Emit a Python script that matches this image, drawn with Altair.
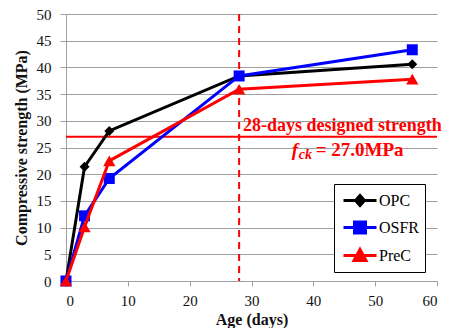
import altair as alt
import pandas as pd

# ---- data ----
ages = [0, 3, 7, 28, 56]
opc = [0, 21.4, 28.1, 38.4, 40.6]
osfr = [0, 12.2, 19.2, 38.4, 43.3]
prec = [0, 10.1, 22.5, 35.9, 37.8]
series_names = ["OPC", "OSFR", "PreC"]
series_colors = ["#000000", "#0000FF", "#FF0000"]
series_shapes = ["diamond", "square", "triangle-up"]
series_sizes = [100, 121, 150]
legend_paths = [
    "M-0.7,0L2.6,0M0.95,-0.5L1.4,0L0.95,0.5L0.5,0Z",
    "M-0.7,0L2.6,0M0.4,-0.55L1.5,-0.55L1.5,0.55L0.4,0.55Z",
    "M-0.7,0L2.6,0M0.95,-0.6L1.55,0.5L0.35,0.5Z",
]
design_strength = [27.0]
design_age = [28]
x_ticks = [0, 10, 20, 30, 40, 50, 60]
y_ticks = [0, 5, 10, 15, 20, 25, 30, 35, 40, 45, 50]
note_line1 = "28-days designed strength"
note_f = "f"
note_sub = "ck"
note_value = "= 27.0MPa"
note_x = [44.7, 36.5]
note_y = [29.1, 24.6]

FONT = "'Liberation Serif', 'Times New Roman', 'DejaVu Serif', serif"
GRID = "#a0a0a0"

x_enc = alt.X("age:Q", scale=alt.Scale(domain=[0, 60], nice=False, zero=False),
              axis=alt.Axis(values=x_ticks, title="Age (days)", grid=False))
y_enc = alt.Y("strength:Q", scale=alt.Scale(domain=[0, 50], nice=False),
              axis=alt.Axis(values=y_ticks, title="Compressive strength (MPa)", grid=True))

layers = []

# design-strength rules
h_df = pd.DataFrame({"strength": design_strength})
layers.append(alt.Chart(h_df).mark_rule(color="#FF0000", strokeWidth=2).encode(y=y_enc))
v_df = pd.DataFrame({"age": design_age})
layers.append(alt.Chart(v_df).mark_rule(color="#FF0000", strokeWidth=2, strokeDash=[7, 5]).encode(x=x_enc))

# series
for vals, color, shape, size in zip([opc, osfr, prec], series_colors, series_shapes, series_sizes):
    df = pd.DataFrame({"age": ages, "strength": vals})
    base = alt.Chart(df).encode(x=x_enc, y=y_enc)
    layers.append(base.mark_line(color=color, strokeWidth=3))
    layers.append(base.mark_point(shape=shape, filled=True, color=color, size=size, opacity=1))

# legend-only layer (no rows; legend comes from explicit scale domains)
leg_df = pd.DataFrame({"Legend": pd.Series([], dtype=str),
                       "age": pd.Series([], dtype=float),
                       "strength": pd.Series([], dtype=float)})
leg_title = None
layers.append(
    alt.Chart(leg_df).mark_point(filled=True, opacity=1).encode(
        x=x_enc, y=y_enc,
        fill=alt.Fill("Legend:N", scale=alt.Scale(domain=series_names, range=series_colors),
                      legend=alt.Legend(title=leg_title)),
        stroke=alt.Stroke("Legend:N", scale=alt.Scale(domain=series_names, range=series_colors),
                          legend=alt.Legend(title=leg_title)),
        shape=alt.Shape("Legend:N", scale=alt.Scale(domain=series_names, range=legend_paths),
                        legend=alt.Legend(title=leg_title)),
    )
)

# annotation text
t1 = pd.DataFrame({"age": [note_x[0]], "strength": [note_y[0]], "label": [note_line1]})
layers.append(alt.Chart(t1).mark_text(font=FONT, fontSize=18, fontWeight="bold", color="#FF0000",
                                      align="center", baseline="middle").encode(
    x=x_enc, y=y_enc, text="label:N"))
t2 = pd.DataFrame({"age": [note_x[1]], "strength": [note_y[1]], "label": [note_f]})
layers.append(alt.Chart(t2).mark_text(font=FONT, fontSize=19, fontWeight="bold", fontStyle="italic",
                                      color="#FF0000", align="left", baseline="middle").encode(
    x=x_enc, y=y_enc, text="label:N"))
t3 = pd.DataFrame({"age": [note_x[1]], "strength": [note_y[1]], "label": [note_sub]})
layers.append(alt.Chart(t3).mark_text(font=FONT, fontSize=14, fontWeight="bold", fontStyle="italic",
                                      color="#FF0000", align="left", baseline="middle", dx=7, dy=5).encode(
    x=x_enc, y=y_enc, text="label:N"))
t4 = pd.DataFrame({"age": [note_x[1]], "strength": [note_y[1]], "label": [note_value]})
layers.append(alt.Chart(t4).mark_text(font=FONT, fontSize=19, fontWeight="bold",
                                      color="#FF0000", align="left", baseline="middle", dx=24).encode(
    x=x_enc, y=y_enc, text="label:N"))

chart = alt.layer(*layers).properties(
    width=371, height=267,
    autosize=alt.AutoSizeParams(type="none"),
    padding={"left": 58, "top": 6, "right": 9, "bottom": 47},
    background="white",
).configure_view(stroke=None).configure_axis(
    labelFont=FONT, labelFontSize=15, labelColor="#111111",
    titleFont=FONT, titleFontSize=16, titleFontWeight="bold", titleColor="#111111",
    domainColor=GRID, tickColor=GRID, gridColor=GRID, gridWidth=1,
).configure_axisX(
    tickSize=5, labelPadding=7, titleY=38, titleBaseline="middle",
).configure_axisY(
    tickSize=6, labelPadding=9, titleX=-45, titleY=133.5, titleBaseline="middle", titleAlign="center",
).configure_legend(
    orient="none", legendX=268, legendY=170,
    strokeColor="#000000", fillColor="white", padding=5,
    symbolSize=400, symbolStrokeWidth=3,
    labelFont=FONT, labelFontSize=16, labelColor="#000000", labelOffset=17,
    rowPadding=4,
)

chart.save("out.html", embed_options={"renderer": "svg", "actions": False})
